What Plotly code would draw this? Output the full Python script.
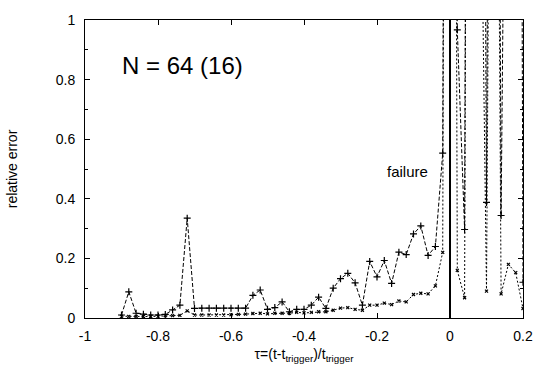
import plotly.graph_objects as go

tau = [-0.90, -0.88, -0.86, -0.84, -0.82, -0.80, -0.78, -0.76, -0.74, -0.72,
       -0.70, -0.68, -0.66, -0.64, -0.62, -0.60, -0.58, -0.56, -0.54, -0.52,
       -0.50, -0.48, -0.46, -0.44, -0.42, -0.40, -0.38, -0.36, -0.34, -0.32,
       -0.30, -0.28, -0.26, -0.24, -0.22, -0.20, -0.18, -0.16, -0.14, -0.12,
       -0.10, -0.08, -0.06, -0.04, -0.02, 0.00, 0.02, 0.04, 0.06, 0.08,
       0.10, 0.12, 0.14, 0.16, 0.18, 0.20]

err_a = [0.010, 0.088, 0.016, 0.013, 0.010, 0.010, 0.012, 0.027, 0.043, 0.335,
         0.032, 0.033, 0.033, 0.033, 0.033, 0.033, 0.033, 0.033, 0.076, 0.094,
         0.029, 0.035, 0.054, 0.021, 0.029, 0.029, 0.043, 0.070, 0.032, 0.100,
         0.132, 0.150, 0.118, 0.043, 0.190, 0.138, 0.193, 0.116, 0.221, 0.213,
         0.282, 0.309, 0.210, 0.240, 0.553, 8.0, 0.967, 0.297, 8.0, 6.0,
         0.388, 6.0, 0.344, 3.0, 8.0, 0.120]

err_b = [0.006, 0.005, 0.005, 0.005, 0.005, 0.006, 0.008, 0.008, 0.009, 0.024,
         0.010, 0.010, 0.010, 0.010, 0.010, 0.011, 0.012, 0.013, 0.015, 0.016,
         0.014, 0.016, 0.016, 0.016, 0.019, 0.017, 0.019, 0.021, 0.021, 0.026,
         0.033, 0.035, 0.029, 0.026, 0.043, 0.043, 0.050, 0.045, 0.057, 0.054,
         0.079, 0.083, 0.081, 0.108, 0.220, 8.0, 0.160, 0.068, 8.0, 2.0,
         0.090, 4.0, 0.081, 0.180, 0.152, 0.032]

x_ticks = [-1, -0.8, -0.6, -0.4, -0.2, 0, 0.2]
x_tick_text = ["-1", "-0.8", "-0.6", "-0.4", "-0.2", "0", "0.2"]
y_ticks = [0, 0.2, 0.4, 0.6, 0.8, 1]
y_tick_text = ["0", "0.2", "0.4", "0.6", "0.8", "1"]

font = "Liberation Sans, Arial, sans-serif"

fig = go.Figure()
fig.add_trace(go.Scatter(
    x=tau, y=err_a, mode="lines+markers",
    line=dict(color="black", width=1, dash="4px,2px"),
    marker=dict(symbol="cross-thin-open", size=5, color="black",
                line=dict(color="black", width=1.2)),
    showlegend=False))
fig.add_trace(go.Scatter(
    x=tau, y=err_b, mode="lines+markers",
    line=dict(color="black", width=1, dash="2px,2px"),
    marker=dict(symbol="x-thin-open", size=3, color="black",
                line=dict(color="black", width=1.2)),
    showlegend=False))

fig.add_shape(type="line", xref="x", yref="paper", x0=0, x1=0, y0=0, y1=1,
              line=dict(color="black", width=2))

fig.add_annotation(x=-0.734, y=0.849, xref="x", yref="y", text="N = 64 (16)",
                   showarrow=False, xanchor="center", yanchor="middle",
                   font=dict(size=24, color="black", family=font))
fig.add_annotation(x=-0.178, y=0.492, xref="x", yref="y", text="failure",
                   showarrow=False, xanchor="left", yanchor="middle",
                   font=dict(size=15, color="black", family=font))

fig.update_layout(
    width=545, height=377,
    margin=dict(l=84, r=15, t=14, b=59),
    paper_bgcolor="white", plot_bgcolor="white",
    font=dict(family=font, size=14, color="black"),
)
fig.update_xaxes(
    range=[-1, 0.2], tickvals=x_ticks, ticktext=x_tick_text,
    showline=True, mirror="ticks", linecolor="black", linewidth=1,
    ticks="inside", ticklen=5, tickcolor="black",
    showgrid=False, zeroline=False, ticklabelstandoff=5,
    title=dict(text="τ=(t-t<sub>trigger</sub>)/t<sub>trigger</sub>",
               font=dict(size=14), standoff=6),
)
fig.update_yaxes(
    range=[0, 1], tickvals=y_ticks, ticktext=y_tick_text,
    showline=True, mirror="ticks", linecolor="black", linewidth=1,
    ticks="inside", ticklen=5, tickcolor="black",
    minor=dict(dtick=0.1, ticks="inside", ticklen=3, tickcolor="black"),
    showgrid=False, zeroline=False, ticklabelstandoff=6,
    title=dict(text="relative error", font=dict(size=14), standoff=34),
)

fig.write_html("out.html")
